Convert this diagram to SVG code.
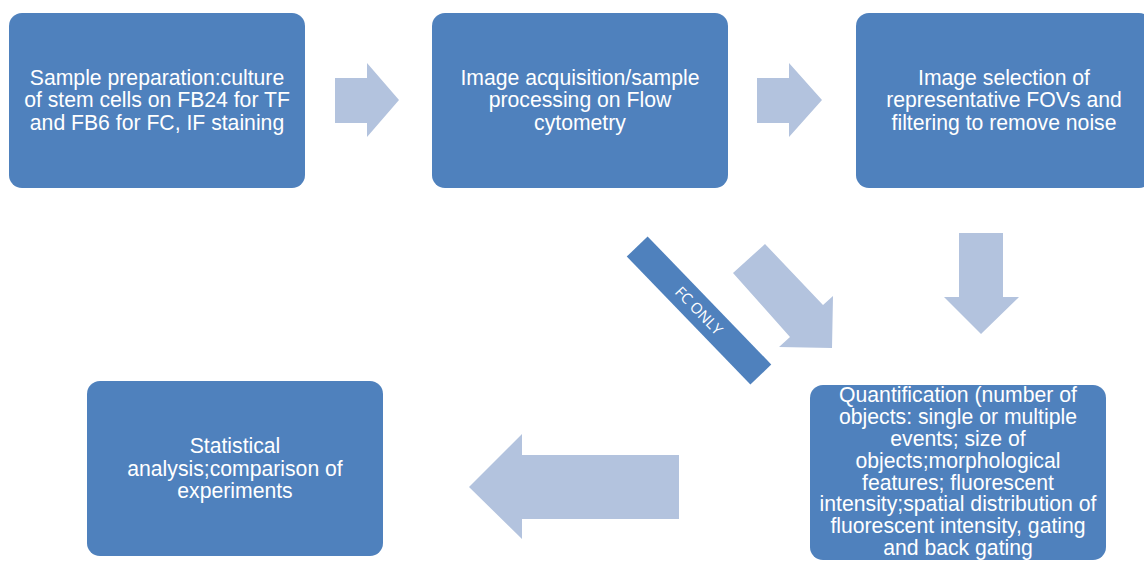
<svg xmlns="http://www.w3.org/2000/svg" width="1144" height="561" viewBox="0 0 1144 561">
<style>
.box{fill:#4F81BD;}
.arr{fill:#B3C3DE;}
.t{font-family:"Liberation Sans",Arial,sans-serif;font-size:21.2px;fill:#FFFFFF;text-anchor:middle;}
.s{font-family:"Open Sans","Liberation Sans",sans-serif;font-size:15px;fill:#FFFFFF;text-anchor:middle;}
</style>
<rect width="1144" height="561" fill="#FFFFFF"/>
<g id="connectors">
<polygon class="arr" points="335,78 367,78 367,63 399,100 367,137 367,123 335,123"/>
<polygon class="arr" points="757,78 789,78 789,63 822,100 789,137 789,123 757,123"/>
<polygon class="arr" points="959,233 1003,233 1003,297 1019,297 981,334 944,297 959,297"/>
<polygon class="arr" points="679,455 522,455 522,434 469,487 522,539 522,519 679,519"/>
<polygon class="arr" points="733,273 765,244 823,305 833,296 832,348 779,347 790,337"/>
</g>
<g id="fc-only">
<rect x="610" y="296" width="178" height="29" transform="rotate(46 699 310.5)" fill="#4F81BD"/>
<text class="s" x="699" y="316" transform="rotate(46 699 310.5)">FC ONLY</text>
</g>
<g id="node-sample">
<rect class="box" x="9" y="13" width="296" height="175" rx="13"/>
<text class="t" x="157" y="84.5">Sample preparation:culture</text>
<text class="t" x="157" y="107">of stem cells on FB24 for TF</text>
<text class="t" x="157" y="129.5">and FB6 for FC, IF staining</text>
</g>
<g id="node-acquisition">
<rect class="box" x="432" y="13" width="296" height="175" rx="13"/>
<text class="t" x="580" y="84.5">Image acquisition/sample</text>
<text class="t" x="580" y="107">processing on Flow</text>
<text class="t" x="580" y="129.5">cytometry</text>
</g>
<g id="node-selection">
<rect class="box" x="856" y="13" width="296" height="175" rx="13"/>
<text class="t" x="1004" y="84.5">Image selection of</text>
<text class="t" x="1004" y="107">representative FOVs and</text>
<text class="t" x="1004" y="129.5">filtering to remove noise</text>
</g>
<g id="node-quantification">
<rect class="box" x="810" y="385" width="296" height="175" rx="13"/>
<text class="t" x="958" y="402">Quantification (number of</text>
<text class="t" x="958" y="424">objects: single or multiple</text>
<text class="t" x="958" y="446">events; size of</text>
<text class="t" x="958" y="468">objects;morphological</text>
<text class="t" x="958" y="490">features; fluorescent</text>
<text class="t" x="958" y="511">intensity;spatial distribution of</text>
<text class="t" x="958" y="533">fluorescent intensity, gating</text>
<text class="t" x="958" y="555">and back gating</text>
</g>
<g id="node-statistical">
<rect class="box" x="87" y="381" width="296" height="175" rx="13"/>
<text class="t" x="235" y="453">Statistical</text>
<text class="t" x="235" y="475.5">analysis;comparison of</text>
<text class="t" x="235" y="498">experiments</text>
</g>
</svg>
